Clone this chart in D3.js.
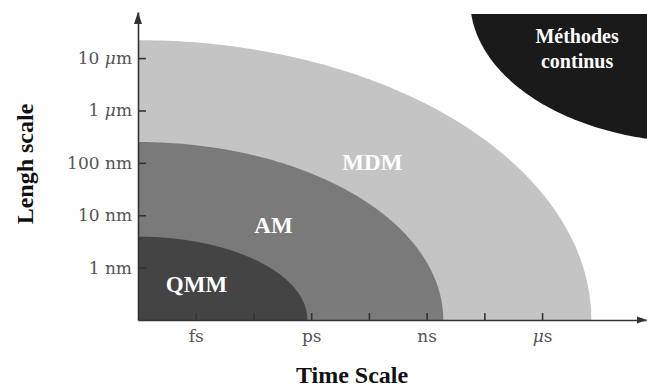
<!DOCTYPE html>
<html>
<head>
<meta charset="utf-8">
<script src="https://cdn.jsdelivr.net/npm/d3@7"></script>
<style>
  html, body { margin: 0; padding: 0; background: #fff; }
  svg { display: block; }
</style>
</head>
<body>
<div id="chart"></div>
<script>
// Time axis: decade ticks (seconds) with their unit labels
const timeTickValues = [1e-15, 1e-12, 1e-9, 1e-6];
const timeTickLabels = ["fs", "ps", "ns", "μs"];
const timeMinorTicks = [Math.pow(10, -13.5), Math.pow(10, -10.5), Math.pow(10, -7.5)];

// Length axis: decade ticks (metres) with their labels
const lengthTickValues = [1e-9, 1e-8, 1e-7, 1e-6, 1e-5];
const lengthTickLabels = ["1 nm", "10 nm", "100 nm", "1 μm", "10 μm"];

// Modelling methods, each covering a quarter-ellipse from the origin
const methodNames = ["MDM", "AM", "QMM"];
const methodTimeReach = [1.9e-5, 2.7e-9, 8e-13];     // s
const methodLengthReach = [2.2e-5, 2.5e-7, 3.9e-9];  // m

// Continuum methods: ellipse centred beyond the top-right corner
const continuumName = ["Méthodes", "continus"];
const continuumCentre = [Math.pow(10, -1.93), Math.pow(10, -3.89)]; // [s, m]
const continuumSpanDecades = [5.94, 2.72];                           // [time, length]
const continuumLengthCap = Math.pow(10, -4.16);                     // m

// ---- layout ----
const W = 647, H = 388;
const fills = { MDM: "#c4c4c4", AM: "#7a7a7a", QMM: "#444444", continuum: "#1a1a1a" };
const labelAt = {                      // label centres in data units [s, m]
  MDM: [Math.pow(10, -10.41), Math.pow(10, -6.99)],
  AM:  [Math.pow(10, -12.98), Math.pow(10, -8.19)],
  QMM: [Math.pow(10, -14.98), Math.pow(10, -9.32)]
};
const continuumLabelTime = Math.pow(10, -5.09);

const svg = d3.select("#chart").append("svg")
  .attr("width", W).attr("height", H);

const x = d3.scaleLog().domain([Math.pow(10, -16.5), Math.pow(10, -3.3)]).range([138, 646]);
const y = d3.scaleLog().domain([1e-10, Math.pow(10, -4.12)]).range([320, 12]);

const lx0 = Math.log10(x.domain()[0]);
const ly0 = Math.log10(y.domain()[0]);

// quarter ellipse in log-log space, from the origin out to (tReach, lReach)
function quarterArea(tReach, lReach) {
  const lt = Math.log10(tReach), ll = Math.log10(lReach);
  const pts = [[x.domain()[0], y.domain()[0]]];
  const n = 120;
  for (let i = 0; i <= n; i++) {
    const a = (i / n) * Math.PI / 2;
    pts.push([
      Math.pow(10, lx0 + (lt - lx0) * Math.cos(a)),
      Math.pow(10, ly0 + (ll - ly0) * Math.sin(a))
    ]);
  }
  return d3.line().x(d => x(d[0])).y(d => y(d[1]))(pts) + "Z";
}

const plot = svg.append("g");
methodNames.forEach((name, i) => {
  plot.append("path")
    .attr("d", quarterArea(methodTimeReach[i], methodLengthReach[i]))
    .attr("fill", fills[name]);
});

// continuum region, capped at the top
svg.append("clipPath").attr("id", "cap")
  .append("rect")
  .attr("x", x.range()[0]).attr("y", y(continuumLengthCap))
  .attr("width", W).attr("height", H);

const ct = Math.log10(continuumCentre[0]), cl = Math.log10(continuumCentre[1]);
const contPts = [];
for (let i = 0; i <= 360; i++) {
  const a = (i / 360) * 2 * Math.PI;
  contPts.push([
    Math.pow(10, ct + continuumSpanDecades[0] * Math.cos(a)),
    Math.pow(10, cl + continuumSpanDecades[1] * Math.sin(a))
  ]);
}
svg.append("path")
  .attr("clip-path", "url(#cap)")
  .attr("d", d3.line().x(d => x(d[0])).y(d => y(d[1]))(contPts) + "Z")
  .attr("fill", fills.continuum);

// region labels
const labelFont = "'Liberation Serif', 'Times New Roman', serif";
methodNames.forEach(name => {
  svg.append("text")
    .attr("x", x(labelAt[name][0])).attr("y", y(labelAt[name][1]))
    .attr("dy", "0.35em")
    .attr("text-anchor", "middle")
    .attr("font-family", labelFont).attr("font-weight", "bold")
    .attr("font-size", 23).attr("fill", "#fff")
    .text(name);
});
continuumName.forEach((line, i) => {
  svg.append("text")
    .attr("x", x(continuumLabelTime)).attr("y", 43 + i * 25)
    .attr("text-anchor", "middle")
    .attr("font-family", labelFont).attr("font-weight", "bold")
    .attr("font-size", 20).attr("fill", "#fff")
    .text(line);
});

// axes with inward ticks
const tickFont = "'DejaVu Serif', serif";
const axisColor = "#333";

function styleLabel(sel, labels) {
  sel.selectAll(".tick text").each(function(d, i) {
    const t = d3.select(this).text("");
    const parts = labels[i].split("μ");
    t.append("tspan").text(parts[0]);
    if (parts.length > 1) {
      t.append("tspan").attr("font-style", "italic").text("μ");
      t.append("tspan").text(parts[1]);
    }
  });
}

const yAxis = svg.append("g")
  .attr("transform", `translate(${x.range()[0]},0)`)
  .call(d3.axisLeft(y).tickValues(lengthTickValues).tickSize(-8).tickSizeOuter(0).tickPadding(6));
styleLabel(yAxis, lengthTickLabels);

const xAxis = svg.append("g")
  .attr("transform", `translate(0,${y.range()[0]})`)
  .call(d3.axisBottom(x).tickValues(timeTickValues).tickSize(-7).tickSizeOuter(0).tickPadding(10));
styleLabel(xAxis, timeTickLabels);

svg.append("g")
  .attr("transform", `translate(0,${y.range()[0]})`)
  .call(d3.axisBottom(x).tickValues(timeMinorTicks).tickSize(-7).tickSizeOuter(0).tickFormat(""))
  .select(".domain").remove();

[yAxis, xAxis].forEach(g => {
  g.selectAll("text").attr("font-family", tickFont).attr("font-size", 17).attr("fill", "#555");
});
svg.selectAll(".domain, .tick line").attr("stroke", axisColor).attr("stroke-width", 1.6);

// arrowheads
const x0 = x.range()[0], yTop = y.range()[1], yB = y.range()[0], xEnd = x.range()[1];
svg.append("path")
  .attr("d", `M${x0},${yTop} L${x0 - 4},${yTop + 12} L${x0 + 4},${yTop + 12} Z`)
  .attr("fill", axisColor);
svg.append("path")
  .attr("d", `M${xEnd + 1},${yB} L${xEnd - 9},${yB - 3.5} L${xEnd - 9},${yB + 3.5} Z`)
  .attr("fill", axisColor);

// axis titles
svg.append("text")
  .attr("x", 352).attr("y", 383)
  .attr("text-anchor", "middle")
  .attr("font-family", labelFont).attr("font-weight", "bold")
  .attr("font-size", 24).attr("fill", "#111")
  .text("Time Scale");

svg.append("text")
  .attr("transform", "translate(33,164) rotate(-90)")
  .attr("text-anchor", "middle")
  .attr("font-family", labelFont).attr("font-weight", "bold")
  .attr("font-size", 24).attr("fill", "#111")
  .text("Lengh scale");
</script>
</body>
</html>
